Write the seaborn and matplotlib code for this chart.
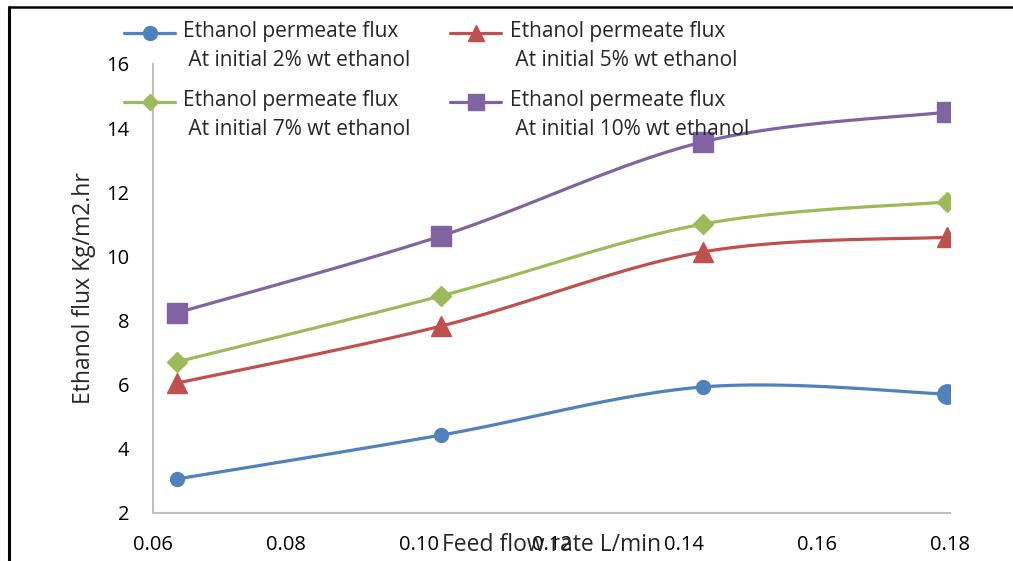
import numpy as np
import pandas as pd
import matplotlib
matplotlib.use("Agg")
import matplotlib.pyplot as plt
from matplotlib.lines import Line2D
import seaborn as sns

# Feed flow rate (L/min) and ethanol flux (Kg/m2.hr) for each initial feed concentration
flow_rate = [0.0636, 0.1034, 0.1428, 0.1795]
flux_2pct = [3.06, 4.43, 5.93, 5.71]
flux_5pct = [6.05, 7.83, 10.14, 10.60]
flux_7pct = [6.71, 8.77, 11.01, 11.70]
flux_10pct = [8.24, 10.64, 13.57, 14.50]

series_labels = [
    "Ethanol permeate flux\n At initial 2% wt ethanol",
    "Ethanol permeate flux\n At initial 5% wt ethanol",
    "Ethanol permeate flux\n At initial 7% wt ethanol",
    "Ethanol permeate flux\n At initial 10% wt ethanol",
]
x_ticks = [0.06, 0.08, 0.10, 0.12, 0.14, 0.16, 0.18]
y_ticks = [2, 4, 6, 8, 10, 12, 14, 16]

colors = ["#4F81BD", "#C0504D", "#9BBB59", "#8064A2"]
markers = ["o", "^", "D", "s"]
msizes = [10, 14, 10.5, 14]
TICK_FS = 14.5
LEG_FS = 15
LABEL_FS = 16.5


def smooth_curve(xs, ys, n=40):
    """Catmull-Rom spline through the points (the usual 'smoothed line' style)."""
    p = np.column_stack([xs, ys]).astype(float)
    p = np.vstack([p[0], p, p[-1]])
    out = []
    t = np.linspace(0, 1, n)[:, None]
    for i in range(1, len(p) - 2):
        p0, p1, p2, p3 = p[i - 1], p[i], p[i + 1], p[i + 2]
        c1 = p1 + (p2 - p0) / 6.0
        c2 = p2 - (p3 - p1) / 6.0
        seg = ((1 - t) ** 3) * p1 + 3 * ((1 - t) ** 2) * t * c1 + 3 * (1 - t) * t ** 2 * c2 + t ** 3 * p2
        out.append(seg if i == 1 else seg[1:])
    out = np.vstack(out)
    return out[:, 0], out[:, 1]


sns.set_theme(style="white")
plt.rcParams["font.family"] = ["Open Sans", "DejaVu Sans"]
plt.rcParams["font.size"] = TICK_FS

fig = plt.figure(figsize=(10.13, 5.61), dpi=100)
ax = fig.add_axes([153 / 1013, 1 - 513 / 561, (950 - 153) / 1013, (513 - 64) / 561])

all_series = [flux_2pct, flux_5pct, flux_7pct, flux_10pct]
for ys, c, m, ms in zip(all_series, colors, markers, msizes):
    sx, sy = smooth_curve(flow_rate, ys)
    curve = pd.DataFrame({"x": sx, "y": sy})
    sns.lineplot(data=curve, x="x", y="y", ax=ax, color=c, lw=2.3, sort=False,
                 estimator=None, legend=False)
    ax.plot(flow_rate, ys, ls="none", marker=m, ms=ms, color=c, mec=c, zorder=3)

# last point of the 2% series is drawn with a larger marker
ax.plot(flow_rate[-1:], flux_2pct[-1:], ls="none", marker="o", ms=14,
        color=colors[0], zorder=3)

ax.set_xlim(0.06, 0.18)
ax.set_ylim(2, 16)
ax.set_xticks(x_ticks)
ax.set_xticklabels([f"{v:.2f}" for v in x_ticks])
ax.set_yticks(y_ticks)
ax.set_yticklabels([str(v) for v in y_ticks])
ax.tick_params(axis="both", length=0, labelsize=TICK_FS, colors="black")
ax.tick_params(axis="x", pad=16)
ax.tick_params(axis="y", pad=17)

for side in ["top", "right"]:
    ax.spines[side].set_visible(False)
for side in ["left", "bottom"]:
    ax.spines[side].set_color("#BFBFBF")
    ax.spines[side].set_linewidth(1.5)

ax.set_xlabel("Feed flow rate L/min", fontsize=LABEL_FS)
ax.xaxis.label.set_va("center")
ax.xaxis.set_label_coords(0.5, -0.071)
ax.set_ylabel("Ethanol flux Kg/m2.hr", fontsize=LABEL_FS)
ax.yaxis.label.set_va("center")
ax.yaxis.set_label_coords(-0.087, 0.5)

handles = [Line2D([0], [0], color=c, lw=2.3, marker=m, ms=ms, mec=c)
           for c, m, ms in zip(colors, markers, [10, 11, 8, 11])]
# legend fills column by column; order entries so rows read 2%,5% / 7%,10%
order = [0, 2, 1, 3]
leg = fig.legend([handles[i] for i in order], [series_labels[i] for i in order],
                 ncol=2, frameon=False,
                 loc="upper left", bbox_to_anchor=(124 / 1013, 1 - 21 / 561),
                 handlelength=2.45, handletextpad=0.4, columnspacing=1.9,
                 labelspacing=0.9, fontsize=LEG_FS,
                 borderaxespad=0, borderpad=0)
for txt in leg.get_texts():
    txt.set_linespacing(1.5)
# lift each legend key up to the first line of its two-line label
for ln in leg.get_lines():
    ln.set_ydata(np.asarray(ln.get_ydata(), dtype=float) + 10.0)

# outer frame lines along the left and top edges
fig.add_artist(Line2D([9 / 1013, 9 / 1013], [0, 1 - 7 / 561], transform=fig.transFigure,
                      color="black", lw=2.2))
fig.add_artist(Line2D([9 / 1013, 1], [1 - 7 / 561, 1 - 7 / 561], transform=fig.transFigure,
                      color="black", lw=1.8))

fig.savefig("out.png", dpi=100)
